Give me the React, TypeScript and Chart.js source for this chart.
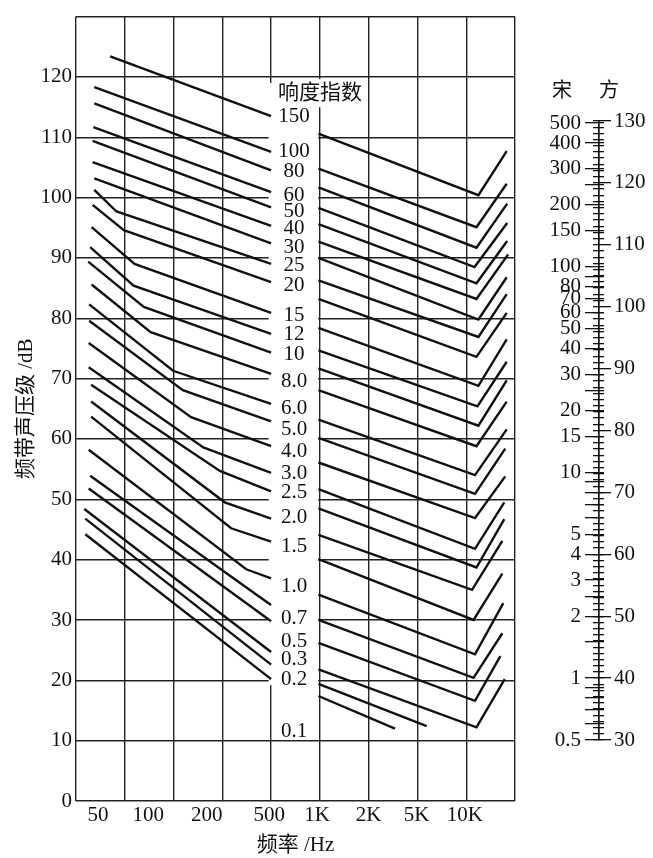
import React, { useEffect, useRef } from 'react';
import { Chart, registerables } from 'chart.js';

Chart.register(...registerables);

const FONT = "'Liberation Serif', 'Noto Sans CJK SC', serif";
Chart.defaults.font.family = FONT;
Chart.defaults.color = '#111';

// ---------- frequency axis (band index 0..9) ----------
const bandLines = [0, 1, 2, 3, 4, 5, 6, 7, 8, 9];
const freqTickPos = [0.45, 1.48, 2.68, 3.96, 4.94, 6.0, 6.98, 7.97];
const freqTickLabels = ['50', '100', '200', '500', '1K', '2K', '5K', '10K'];
const dbTicks = [0, 10, 20, 30, 40, 50, 60, 70, 80, 90, 100, 110, 120, 130];

// ---------- loudness index labels ----------
const indexLabels = ['150', '100', '80', '60', '50', '40', '30', '25', '20', '15', '12', '10', '8.0', '6.0', '5.0', '4.0', '3.0', '2.5', '2.0', '1.5', '1.0', '0.7', '0.5', '0.3', '0.2', '0.1'];
const indexLabelDb = [113.4, 107.6, 104.3, 100.4, 97.7, 94.9, 91.7, 88.7, 85.4, 80.4, 77.3, 74.0, 69.5, 65.1, 61.6, 58.0, 54.2, 51.1, 47.0, 42.1, 35.5, 30.3, 26.5, 23.5, 20.2, 11.5];
const indexLabelX = 4.47;
const headerText = '响度指数';
const headerPos = [5, 117.3];
const labelColumnX = [3.95, 4.965];
const labelColumnDb = [19.2, 119.0];

// ---------- left panel curves (50 – 500 Hz) ----------
const leftEndX = 4;
const leftStartX = [0.70, 0.375, 0.375, 0.355, 0.34, 0.34, 0.375, 0.375, 0.34, 0.32, 0.29, 0.25, 0.32, 0.27, 0.27, 0.26, 0.26, 0.31, 0.31, 0.31, 0.26, 0.29, 0.26, 0.17, 0.19, 0.19];
const leftStartDb = [123.4, 118.3, 115.6, 111.7, 109.4, 105.9, 103.2, 101.3, 98.8, 95.1, 91.8, 89.4, 85.6, 82.3, 79.6, 75.9, 71.9, 69.0, 66.2, 63.7, 58.2, 53.9, 51.8, 48.4, 46.8, 44.2];
const leftKneeX = [null, null, null, null, null, null, null, 0.83, 0.98, 1.20, 1.18, 1.39, 1.53, 1.99, 2.19, 2.36, 2.61, 2.95, 3.05, 3.18, 3.49, 3.73, null, null, null, null];
const leftKneeDb = [null, null, null, null, null, null, null, 97.7, 94.6, 89.0, 85.4, 81.9, 77.7, 71.3, 68.1, 63.6, 58.6, 54.7, 49.5, 45.2, 38.4, 34.0, null, null, null, null];
const leftEndDb = [113.5, 107.6, 104.5, 100.9, 98.4, 95.3, 92.4, 89.0, 86.0, 80.9, 77.4, 74.3, 70.8, 65.8, 62.9, 58.8, 54.4, 51.3, 46.8, 43.0, 36.9, 32.5, 29.8, 24.7, 22.6, 20.2];

// ---------- right panel curves (1K – 10K Hz) ----------
const rightStartX = 4.97;
const rightStartDb = [110.6, 104.8, 101.7, 98.3, 95.6, 92.7, 90.0, 86.3, 83.2, 78.4, 74.7, 71.7, 68.1, 63.2, 60.2, 56.1, 51.7, 48.5, 44.1, 40.1, 34.2, 30.0, 26.2, 21.8, 19.4, 17.4];
const rightLowX = [8.25, 8.21, 8.21, 8.17, 8.21, 8.21, 8.25, 8.25, 8.21, 8.25, 8.23, 8.25, 8.21, 8.18, 8.18, 8.18, 8.18, 8.21, 8.12, 8.15, 8.18, 8.15, 8.18, 8.21, 7.19, 6.54];
const rightLowDb = [100.4, 95.1, 91.7, 88.5, 85.8, 83.2, 79.8, 76.9, 73.6, 68.8, 65.4, 62.2, 58.8, 54.0, 50.9, 46.9, 41.8, 38.7, 35.0, 30.0, 24.3, 20.4, 16.6, 12.2, 12.4, 12.0];
const rightTopX = [8.83, 8.83, 8.84, 8.84, 8.84, 8.86, 8.83, 8.83, 8.83, 8.83, 8.83, 8.83, 8.83, 8.83, 8.80, 8.80, 8.78, 8.78, 8.74, 8.74, 8.76, 8.74, 8.70, 8.79, null, null];
const rightTopDb = [107.7, 102.3, 99.0, 95.8, 92.8, 90.6, 86.8, 84.0, 80.9, 76.5, 72.8, 69.7, 66.2, 61.6, 58.4, 53.8, 49.5, 46.7, 43.1, 37.7, 32.8, 27.8, 24.0, 20.2, null, null];

// ---------- sone / phon ruler ----------
const phonTicks = Array.from({ length: 101 }, (_, i) => 30 + i);
const phonLabelStep = 10;
const soneTicks = [0.5, 0.6, 0.7, 0.8, 0.9, 1, 1.5, 2, 2.5, 3, 4, 5, 6, 7, 8, 9, 10, 15, 20, 25, 30, 40, 50, 60, 70, 80, 90, 100, 150, 200, 250, 300, 400, 500];
const soneLabeled = [0.5, 1, 2, 3, 4, 5, 10, 15, 20, 30, 40, 50, 60, 70, 80, 100, 150, 200, 300, 400, 500];
const soneToPhon = (s: number) => 40 + 10 * Math.log2(s);

const INK = '#111';
const GRID = '#222';

function buildDatasets() {
  const sets: any[] = [];
  for (let i = 0; i < leftStartDb.length; i++) {
    const pts: any[] = [{ x: leftStartX[i], y: leftStartDb[i] }];
    if (leftKneeX[i] !== null) pts.push({ x: leftKneeX[i], y: leftKneeDb[i] });
    pts.push({ x: leftEndX, y: leftEndDb[i] });
    sets.push({ data: pts });
  }
  for (let i = 0; i < rightStartDb.length; i++) {
    const pts: any[] = [{ x: rightStartX, y: rightStartDb[i] }, { x: rightLowX[i], y: rightLowDb[i] }];
    if (rightTopX[i] !== null) pts.push({ x: rightTopX[i], y: rightTopDb[i] });
    sets.push({ data: pts });
  }
  return sets.map((s) => ({
    ...s,
    xAxisID: 'x',
    yAxisID: 'y',
    borderColor: INK,
    borderWidth: 2.4,
    pointRadius: 0,
    tension: 0,
    fill: false,
  }));
}

const panelPlugin = {
  id: 'panelLabels',
  beforeDatasetsDraw(chart: any) {
    const { ctx, scales } = chart;
    const x = scales.x;
    const y = scales.y;
    ctx.save();
    ctx.fillStyle = '#fff';
    const x0 = x.getPixelForValue(labelColumnX[0]);
    const x1 = x.getPixelForValue(labelColumnX[1]);
    const y0 = y.getPixelForValue(labelColumnDb[1]);
    const y1 = y.getPixelForValue(labelColumnDb[0]);
    ctx.fillRect(x0, y0, x1 - x0, y1 - y0);
    ctx.font = `21px ${FONT}`;
    const w = ctx.measureText(headerText).width;
    const hx = x.getPixelForValue(headerPos[0]);
    const hy = y.getPixelForValue(headerPos[1]);
    ctx.fillRect(hx - w / 2 - 3, hy - 14, w + 6, 28);
    ctx.restore();
  },
  afterDatasetsDraw(chart: any) {
    const { ctx, scales } = chart;
    const x = scales.x;
    const y = scales.y;
    ctx.save();
    ctx.fillStyle = INK;
    ctx.textAlign = 'center';
    ctx.textBaseline = 'middle';
    ctx.font = `21px ${FONT}`;
    ctx.fillText(headerText, x.getPixelForValue(headerPos[0]), y.getPixelForValue(headerPos[1]));
    ctx.font = `21px ${FONT}`;
    const lx = x.getPixelForValue(indexLabelX);
    indexLabels.forEach((t, i) => {
      ctx.fillText(t, lx, y.getPixelForValue(indexLabelDb[i]));
    });
    ctx.restore();
  },
};

const rulerHeaderPlugin = {
  id: 'rulerHeader',
  afterDraw(chart: any) {
    const { ctx, chartArea } = chart;
    ctx.save();
    ctx.fillStyle = INK;
    ctx.font = `20px ${FONT}`;
    ctx.textAlign = 'center';
    ctx.textBaseline = 'middle';
    ctx.fillText('宋', chartArea.left - 31, chartArea.top - 29);
    ctx.fillText('方', chartArea.right + 5, chartArea.top - 29);
    ctx.restore();
  },
};

export default function App() {
  const mainRef = useRef<HTMLCanvasElement | null>(null);
  const rulerRef = useRef<HTMLCanvasElement | null>(null);

  useEffect(() => {
    if (!mainRef.current || !rulerRef.current) return;
    const main = new Chart(mainRef.current, {
      type: 'line',
      data: { datasets: buildDatasets() },
      options: {
        responsive: false,
        animation: false,
        events: [],
        layout: { padding: { left: 0, right: 138, top: 9, bottom: 0 } },
        plugins: { legend: { display: false }, tooltip: { enabled: false } },
        scales: {
          x: {
            type: 'linear',
            min: 0,
            max: 9,
            position: 'bottom',
            afterBuildTicks: (s: any) => {
              s.ticks = bandLines.map((v) => ({ value: v }));
            },
            ticks: { display: false },
            grid: { color: GRID, lineWidth: 1.4, drawTicks: false },
            border: { display: false },
            afterFit: (s: any) => {
              s.height = 0;
            },
          },
          xl: {
            type: 'linear',
            axis: 'x',
            min: 0,
            max: 9,
            position: 'bottom',
            afterBuildTicks: (s: any) => {
              s.ticks = freqTickPos.map((v) => ({ value: v }));
            },
            grid: { display: false, drawTicks: false },
            border: { display: false },
            ticks: {
              autoSkip: false,
              maxRotation: 0,
              padding: 2,
              color: INK,
              font: { size: 21, family: FONT },
              callback: (_v: any, i: number) => freqTickLabels[i],
            },
            title: {
              display: true,
              text: '频率 /Hz',
              color: INK,
              font: { size: 21, family: FONT },
              padding: { top: 0, bottom: 0 },
            },
            afterFit: (s: any) => {
              s.height = 57;
            },
          },
          y: {
            type: 'linear',
            min: 0,
            max: 130,
            position: 'left',
            afterBuildTicks: (s: any) => {
              s.ticks = dbTicks.map((v) => ({ value: v }));
            },
            ticks: {
              padding: 4,
              color: INK,
              font: { size: 21, family: FONT },
              callback: (v: any) => (v === 130 ? '' : String(v)),
            },
            grid: { color: GRID, lineWidth: 1.4, drawTicks: false },
            border: { display: false },
            title: {
              display: true,
              text: '频带声压级 /dB',
              color: INK,
              font: { size: 21, family: FONT },
              padding: { top: 14, bottom: 0 },
            },
            afterFit: (s: any) => {
              s.width = 76;
            },
          },
        },
      } as any,
      plugins: [panelPlugin],
    });

    const ruler = new Chart(rulerRef.current, {
      type: 'line',
      data: { datasets: [] },
      options: {
        responsive: false,
        animation: false,
        events: [],
        layout: { padding: { left: 0, right: 0, top: 121, bottom: 118 } },
        plugins: { legend: { display: false }, tooltip: { enabled: false } },
        scales: {
          x: {
            type: 'linear',
            min: 0,
            max: 2,
            position: 'bottom',
            afterBuildTicks: (s: any) => {
              s.ticks = [{ value: 1 }];
            },
            ticks: { display: false },
            grid: { color: INK, lineWidth: 1.7, drawTicks: false },
            border: { display: false },
            afterFit: (s: any) => {
              s.height = 0;
            },
          },
          sone: {
            axis: 'y',
            type: 'linear',
            position: 'left',
            min: 30,
            max: 130,
            afterBuildTicks: (s: any) => {
              s.ticks = soneTicks.map((v) => ({ value: soneToPhon(v) }));
            },
            ticks: {
              autoSkip: false,
              padding: 4,
              color: INK,
              font: { size: 21, family: FONT },
              callback: (_v: any, i: number) => (soneLabeled.includes(soneTicks[i]) ? String(soneTicks[i]) : ''),
            },
            grid: { color: INK, lineWidth: 1.3, tickLength: 8, drawTicks: true },
            border: { display: false },
            afterFit: (s: any) => {
              s.width = 63;
            },
          },
          phon: {
            axis: 'y',
            type: 'linear',
            position: 'right',
            min: 30,
            max: 130,
            afterBuildTicks: (s: any) => {
              s.ticks = phonTicks.map((v) => ({ value: v }));
            },
            ticks: {
              autoSkip: false,
              padding: 3,
              color: INK,
              font: { size: 21, family: FONT },
              callback: (v: any) => (v % phonLabelStep === 0 ? String(v) : ''),
            },
            grid: {
              color: INK,
              lineWidth: 1.3,
              tickLength: 7,
              drawTicks: true,
              tickColor: (c: any) => (c.tick && c.tick.value % phonLabelStep === 0 ? INK : 'rgba(0,0,0,0)'),
            },
            border: { display: false },
            afterFit: (s: any) => {
              s.width = 49;
            },
          },
        },
      } as any,
      plugins: [rulerHeaderPlugin],
    });

    return () => {
      main.destroy();
      ruler.destroy();
    };
  }, []);

  return (
    <div style={{ position: 'absolute', left: 0, top: 0, width: 653, height: 858, background: '#fff', overflow: 'hidden' }}>
      <canvas ref={mainRef} width={653} height={858} style={{ position: 'absolute', left: 0, top: 0, width: 653, height: 858 }} />
      <canvas ref={rulerRef} width={123} height={858} style={{ position: 'absolute', left: 530, top: 0, width: 123, height: 858 }} />
    </div>
  );
}
